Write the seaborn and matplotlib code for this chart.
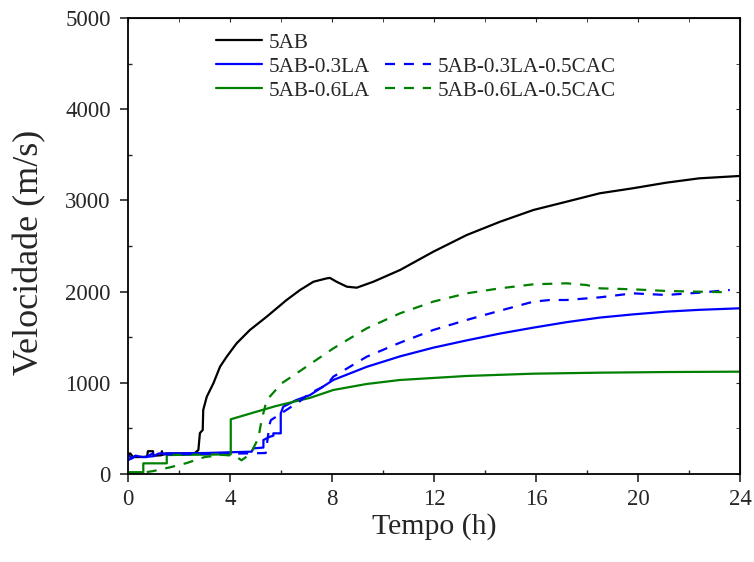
import numpy as np
import pandas as pd
import seaborn as sns
import matplotlib
matplotlib.use("Agg")
import matplotlib.pyplot as plt
from matplotlib.lines import Line2D
from matplotlib.ticker import MultipleLocator

sns.set_style("ticks")
plt.rcParams['font.family'] = ['Liberation Serif', 'DejaVu Serif']
plt.rcParams['mathtext.fontset'] = 'stix'

# ---- data ----
t_5ab = [0, 0.08, 0.2, 0.5, 0.75, 0.78, 0.98, 1.0, 1.3, 1.33, 1.36, 1.5, 2.6, 2.76, 2.82, 2.93, 2.95, 3.09, 3.35,
         3.61, 3.87, 4.26, 4.78, 5.44, 6.22, 6.75, 7.27, 7.79, 7.92, 8.18, 8.58, 8.97, 9.62, 10.67, 11.97, 13.28,
         14.59, 15.9, 17.2, 18.5, 19.8, 21.1, 22.4, 24.0]
v_5ab = [200, 227, 186, 186, 190, 250, 250, 200, 205, 250, 210, 225, 225, 263, 449, 482, 702, 848, 995,
         1177, 1286, 1433, 1579, 1725, 1908, 2018, 2108, 2145, 2150, 2108, 2054, 2043, 2108, 2237, 2437, 2620,
         2766, 2895, 2986, 3078, 3133, 3194, 3242, 3268]

t_03la = [0, 0.15, 0.3, 0.6, 1.0, 1.2, 3.0, 4.85, 4.92, 5.31, 5.31, 5.57, 5.7, 5.7, 5.99, 5.99, 6.09, 6.6,
          7.14, 8.05, 9.36, 10.67, 11.97, 13.28, 14.59, 15.9, 17.2, 18.5, 19.8, 21.1, 22.4, 24.0]
v_03la = [210, 170, 200, 185, 195, 225, 230, 245, 281, 290, 373, 409, 420, 446, 446, 665, 738, 811,
          866, 1031, 1175, 1290, 1385, 1465, 1540, 1605, 1665, 1715, 1750, 1780, 1800, 1817]

t_06la = [0, 0.6, 0.6, 1.52, 1.52, 4.03, 4.03, 5.0, 5.8, 6.61, 7.14, 8.05, 9.36, 10.67, 13.28, 15.9,
          18.5, 21.1, 24.0]
v_06la = [20, 20, 117, 117, 208, 215, 600, 680, 745, 800, 835, 921, 987, 1031, 1075, 1100,
          1111, 1118, 1122]

t_03cac = [0, 0.3, 0.6, 1.0, 1.5, 3.0, 4.5, 5.4, 5.55, 5.6, 6.2, 6.75, 7.1, 7.79, 8.05, 9.36, 10.67, 11.97,
           13.28, 14.59, 15.9, 16.55, 17.2, 18.5, 19.8, 21.1, 22.4, 23.6]
v_03cac = [150, 200, 170, 230, 215, 220, 225, 230, 540, 590, 700, 800, 880, 976, 1067, 1286, 1440, 1579,
           1689, 1791, 1890, 1908, 1908, 1937, 1981, 1963, 1988, 2018]

t_06cac = [0, 0.5, 1.0, 1.6, 2.3, 3.0, 3.7, 4.2, 4.45, 4.8, 5.11, 5.24, 5.44, 6.03, 6.75, 8.05, 9.36, 10.67,
           11.97, 13.28, 14.59, 15.9, 17.2, 17.99, 18.5, 19.8, 21.1, 22.4, 23.6]
v_06cac = [0, 10, 33, 70, 120, 185, 210, 200, 150, 220, 391, 592, 811, 995, 1130, 1377, 1597, 1762,
           1890, 1981, 2036, 2080, 2091, 2072, 2036, 2025, 2007, 1999, 1992]

x_ticks = [0, 4, 8, 12, 16, 20, 24]
y_ticks = [0, 1000, 2000, 3000, 4000, 5000]

series = [
    ("5AB", t_5ab, v_5ab, "black", "-"),
    ("5AB-0.3LA", t_03la, v_03la, "#0000FF", "-"),
    ("5AB-0.6LA", t_06la, v_06la, "#008000", "-"),
    ("5AB-0.3LA-0.5CAC", t_03cac, v_03cac, "#0000FF", "--"),
    ("5AB-0.6LA-0.5CAC", t_06cac, v_06cac, "#008000", "--"),
]

fig = plt.figure(figsize=(7.54, 5.62), dpi=100)
ax = fig.add_axes([128/754, 1-474/562, (740-128)/754, (474-18)/562])

handles = {}
for name, t, v, col, ls in series:
    df = pd.DataFrame({"t": t, "v": v})
    sns.lineplot(data=df, x="t", y="v", ax=ax, estimator=None, sort=False,
                 color=col, linewidth=1.6)
    line = ax.get_lines()[-1]
    if ls == "--":
        line.set_dashes((4.5, 4))
    handles[name] = line

ax.set_xlim(0, 24)
ax.set_ylim(0, 5000)
ax.set_xticks(x_ticks)
ax.set_yticks(y_ticks)
ax.xaxis.set_minor_locator(MultipleLocator(2))
ax.yaxis.set_minor_locator(MultipleLocator(500))
ax.tick_params(which='major', direction='out', length=5.5, width=1.2, labelsize=16.5)
ax.tick_params(axis='x', which='major', pad=5)
ax.tick_params(axis='y', which='major', pad=7)
ax.tick_params(which='minor', direction='in', length=3, width=1)
for s in ax.spines.values():
    s.set_linewidth(1.3)
    s.set_color('black')

secx = ax.secondary_xaxis('top')
secx.set_xticks(x_ticks)
secx.xaxis.set_minor_locator(MultipleLocator(2))
secx.tick_params(which='both', direction='in', labeltop=False, length=3)
secy = ax.secondary_yaxis('right')
secy.set_yticks(y_ticks)
secy.yaxis.set_minor_locator(MultipleLocator(500))
secy.tick_params(which='both', direction='in', labelright=False, length=3)

ax.set_xlabel("Tempo (h)", fontsize=21.5)
ax.set_ylabel("Velocidade (m/s)", fontsize=26)
ax.xaxis.set_label_coords(0.5, -0.086)
ax.yaxis.set_label_coords(-0.134, 0.487)

blank = Line2D([], [], linestyle='none', marker=None)
leg_handles = [handles["5AB"], handles["5AB-0.3LA"], handles["5AB-0.6LA"],
               blank, handles["5AB-0.3LA-0.5CAC"], handles["5AB-0.6LA-0.5CAC"]]
leg_labels = ["5AB", "5AB-0.3LA", "5AB-0.6LA", " ", "5AB-0.3LA-0.5CAC", "5AB-0.6LA-0.5CAC"]
ax.legend(leg_handles, leg_labels, ncol=2, loc='upper left', bbox_to_anchor=(0.119, 1.0),
          frameon=False, fontsize=15.2, handlelength=2.2, handletextpad=0.3,
          columnspacing=0.72, labelspacing=0.2, borderpad=0.2)

fig.savefig("out.png", dpi=100)
